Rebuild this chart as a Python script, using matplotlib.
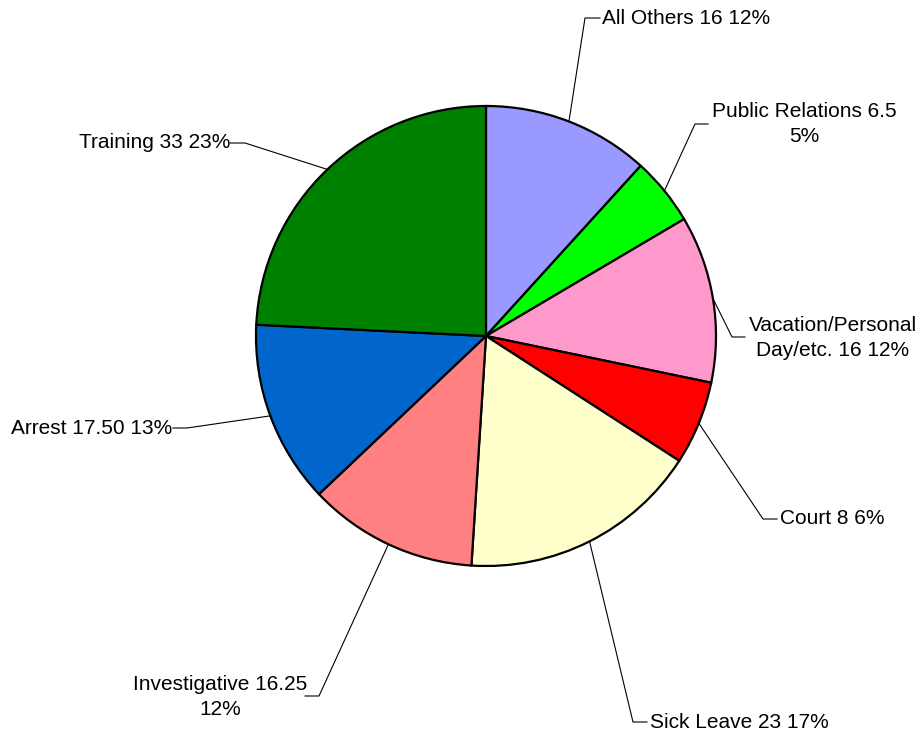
import numpy as np
import matplotlib
matplotlib.use("Agg")
import matplotlib.pyplot as plt

plt.rcParams["font.family"] = ["Liberation Sans", "DejaVu Sans"]

categories = ["All Others", "Public Relations", "Vacation/Personal Day/etc.", "Court",
              "Sick Leave", "Investigative", "Arrest", "Training"]
hours = [16, 6.5, 16, 8, 23, 16.25, 17.5, 33]
label_texts = [
    "All Others 16 12%",
    "Public Relations 6.5\n5%",
    "Vacation/Personal\nDay/etc. 16 12%",
    "Court 8 6%",
    "Sick Leave 23 17%",
    "Investigative 16.25\n12%",
    "Arrest 17.50 13%",
    "Training 33 23%",
]
colors = ["#9999FF", "#00FF00", "#FF99CC", "#FF0000", "#FFFFCC", "#FF8080", "#0066CC", "#008000"]

W, H = 923, 736
CX, CY, R = 486, 336, 230

# leader layout in pixel coords (top-left origin): elbow, line end, text anchor, alignment
leaders = [
    ((585, 18), (600, 18), (602, 18), "left"),
    ((695, 124), (708, 124), (804, 124), "center"),
    ((732, 337), (745, 337), (833, 338), "center"),
    ((763, 519), (777, 519), (780, 519), "left"),
    ((633, 722), (647, 722), (650, 722), "left"),
    ((319, 696), (305, 696), (220, 697), "center"),
    ((187, 428), (173, 428), (172, 428), "right"),
    ((245, 143), (230, 143), (230, 143), "right"),
]


def fy(y):
    return H - y


fig = plt.figure(figsize=(W / 100, H / 100), dpi=100)
ax = fig.add_axes([0, 0, 1, 1])
ax.set_xlim(0, W)
ax.set_ylim(0, H)
ax.set_aspect("equal")
ax.axis("off")

wedges, _ = ax.pie(hours, colors=colors, startangle=90, counterclock=False,
                   center=(CX, fy(CY)), radius=R,
                   wedgeprops={"edgecolor": "black", "linewidth": 1.6})
ax.set_xlim(0, W)
ax.set_ylim(0, H)

for w, text, (elbow, end, anchor, ha) in zip(wedges, label_texts, leaders):
    mid = np.deg2rad((w.theta1 + w.theta2) / 2)
    px = CX + R * np.cos(mid)
    py = fy(CY) + R * np.sin(mid)
    ax.plot([px, elbow[0], end[0]], [py, fy(elbow[1]), fy(end[1])],
            color="black", linewidth=0.8)
    ax.text(anchor[0], fy(anchor[1]), text, ha=ha, va="center", fontsize=15,
            linespacing=1.45, multialignment="center")

fig.savefig("out.png", dpi=100)
